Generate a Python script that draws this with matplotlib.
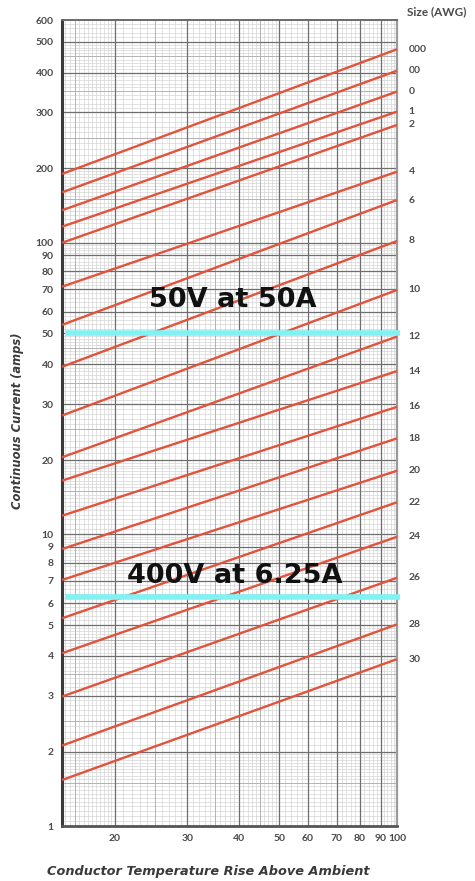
import numpy as np
import matplotlib
matplotlib.use("Agg")
import matplotlib.pyplot as plt
import matplotlib.transforms as mtransforms

# wire sizes and the current read at the left (about 13.7 C) and right (100 C) edges
sizes = ["000", "00", "0", "1", "2", "4", "6", "8", "10", "12", "14",
         "16", "18", "20", "22", "24", "26", "28", "30"]
amps_left = [190, 160, 135.4, 116.2, 100, 71.3, 53.7, 39.3, 27.6, 20.4, 16.5,
             11.9, 8.86, 7.04, 5.29, 4.08, 2.98, 2.09, 1.535]
amps_right = [474, 406, 349, 301.7, 274, 194, 149, 101.7, 69.6, 48.9, 38.1,
              29.4, 23.4, 18.1, 13.49, 9.80, 7.16, 5.03, 3.91]
temp_left, temp_right = 13.7, 100

marks = [50, 6.25]
mark_texts = ["50V at 50A", "400V at 6.25A"]

yticks = [1, 2, 3, 4, 5, 6, 7, 8, 9, 10, 20, 30, 40, 50, 60, 70, 80, 90,
          100, 200, 300, 400, 500, 600]
xticks = [20, 30, 40, 50, 60, 70, 80, 90, 100]

# the printed chart paper is not a true log scale: each decade is squeezed
# near its start, so map values the same way the paper does
PAPER = np.array([0, .255, .447, .583, .689, .764, .841, .902, .957, 1.0])
TRUE = np.log10(np.arange(1, 11))

def paper_fwd(v):
    lv = np.log10(np.clip(np.asarray(v, dtype=float), 1e-9, None))
    d = np.floor(lv)
    return d + np.interp(lv - d, TRUE, PAPER)

def paper_inv(p):
    p = np.asarray(p, dtype=float)
    d = np.floor(p)
    return 10 ** (d + np.interp(p - d, PAPER, TRUE))

fig = plt.figure(figsize=(4.75, 8.81), dpi=100)
ax = fig.add_axes([62 / 475, 55 / 881, 335 / 475, 806 / 881])
ax.set_xscale("function", functions=(paper_fwd, paper_inv))
ax.set_yscale("function", functions=(paper_fwd, paper_inv))
ax.set_xlim(temp_left, temp_right)
ax.set_ylim(1, 600)

def paper_lines(lo, hi):
    fine, mid, major = [], [], []
    for dec in [1, 10, 100]:
        for k in np.arange(1, 10, 0.05):
            v = round(k, 2)
            if abs(v - round(v)) < 1e-6:
                major.append(v * dec)
            elif v < 2:
                (mid if abs(v * 10 - round(v * 10)) < 1e-6 and round(v * 10) % 5 == 0 else fine).append(v * dec)
            elif v < 5:
                if abs(v * 10 - round(v * 10)) < 1e-6:
                    (mid if round(v * 10) % 5 == 0 else fine).append(v * dec)
            else:
                if abs(v * 5 - round(v * 5)) < 1e-6:
                    (mid if abs(v * 2 - round(v * 2)) < 1e-6 else fine).append(v * dec)
    keep = lambda a: [v for v in a if lo < v < hi]
    return keep(fine), keep(mid), keep(major)

xf, xm, xM = paper_lines(temp_left, temp_right)
yf, ym, yM = paper_lines(1, 600)
for v in xf:
    ax.axvline(v, color="#d2d2d2", lw=0.45, zorder=0)
for v in yf:
    ax.axhline(v, color="#d2d2d2", lw=0.45, zorder=0)
for v in xm:
    ax.axvline(v, color="#a8a8a8", lw=0.6, zorder=0)
for v in ym:
    ax.axhline(v, color="#a8a8a8", lw=0.6, zorder=0)
for v in xM:
    ax.axvline(v, color="#6e6e6e", lw=0.9, zorder=0)
for v in yM:
    ax.axhline(v, color="#6e6e6e", lw=0.9, zorder=0)

for lo, hi in zip(amps_left, amps_right):
    ax.plot([temp_left, temp_right], [lo, hi], color="#e2533c", lw=1.7,
            solid_capstyle="butt", zorder=3, clip_on=False)

trans = mtransforms.blended_transform_factory(ax.transAxes, ax.transData)
for s, v in zip(sizes, amps_right):
    ax.text(1.035, v, s, transform=trans, ha="left", va="center",
            fontsize=7.5, fontweight="bold", color="#4a4a4a", family="Lato")
ax.text(1.03, 1.01, "Size (AWG)", transform=ax.transAxes, ha="left",
        va="center", fontsize=8.5, fontweight="bold", color="#4a4a4a", family="Lato")

for v in marks:
    ax.plot([0.01, 1.01], [v, v], transform=trans, color="#80f2f4", lw=4,
            solid_capstyle="butt", zorder=4, clip_on=False)
ax.text(0.51, 0.652, mark_texts[0], transform=ax.transAxes, ha="center",
        va="center", fontsize=19.5, fontweight="bold", color="#111111", zorder=5)
ax.text(0.516, 0.31, mark_texts[1], transform=ax.transAxes, ha="center",
        va="center", fontsize=19.5, fontweight="bold", color="#111111", zorder=5)

ax.set_xticks(xticks)
ax.set_xticklabels([str(t) for t in xticks])
ax.set_yticks(yticks)
ax.set_yticklabels([str(t) for t in yticks])
ax.xaxis.set_minor_locator(matplotlib.ticker.NullLocator())
ax.yaxis.set_minor_locator(matplotlib.ticker.NullLocator())
ax.tick_params(length=0, labelsize=7.5, labelcolor="#4a4a4a", pad=6)
for lab in ax.get_xticklabels() + ax.get_yticklabels():
    lab.set_fontweight("bold")
    lab.set_family("Lato")

ax.spines["left"].set_linewidth(2.2)
ax.spines["left"].set_color("#3a3a3a")
ax.spines["bottom"].set_linewidth(2.0)
ax.spines["bottom"].set_color("#555555")
ax.spines["right"].set_linewidth(1.6)
ax.spines["right"].set_color("#9a9a9a")
ax.spines["top"].set_linewidth(1.4)
ax.spines["top"].set_color("#6a6a6a")

fig.text(18 / 475, 1 - 421 / 881, "Continuous Current (amps)", rotation=90,
         ha="center", va="center", fontsize=8.3, fontweight="bold",
         style="italic", color="#3a3a3a")
fig.text(208 / 475, 1 - 872 / 881, "Conductor Temperature Rise Above Ambient",
         ha="center", va="center", fontsize=9.3, fontweight="bold",
         style="italic", color="#3a3a3a")

fig.savefig("out.png", dpi=100, facecolor="white")
